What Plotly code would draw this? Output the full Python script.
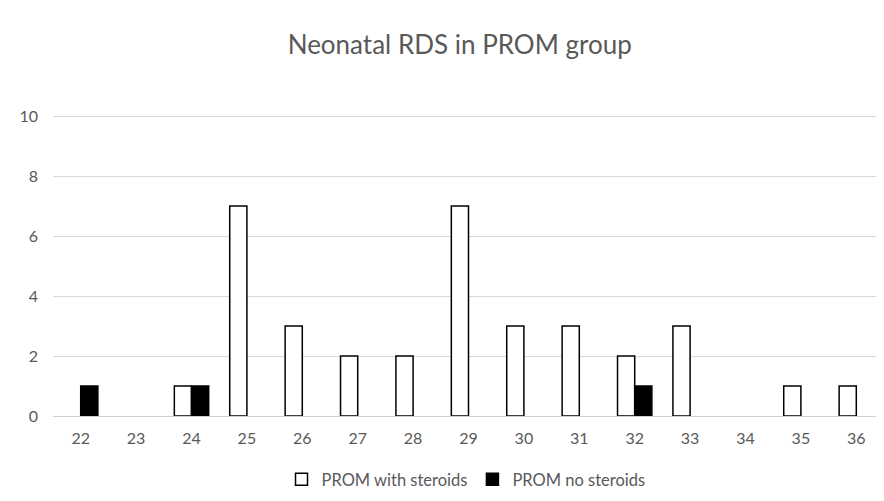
import plotly.graph_objects as go

weeks = [str(w) for w in range(22, 37)]
with_steroids = [0, 0, 1, 7, 3, 2, 2, 7, 3, 3, 2, 3, 0, 1, 1]
no_steroids = [1, 0, 1, 0, 0, 0, 0, 0, 0, 0, 1, 0, 0, 0, 0]

font = "Lato"
grey = "#595959"


def hide_zero(values):
    # zero counts are left empty so they don't leave an outline stub
    return [v if v else None for v in values]


fig = go.Figure()
fig.add_trace(go.Bar(
    x=weeks, y=hide_zero(with_steroids), name="PROM with steroids",
    marker=dict(color="white", line=dict(color="black", width=1.5)),
))
fig.add_trace(go.Bar(
    x=weeks, y=hide_zero(no_steroids), name="PROM no steroids",
    marker=dict(color="black", line=dict(color="black", width=1.5)),
))

fig.update_layout(
    width=884, height=501,
    template="simple_white",
    paper_bgcolor="white", plot_bgcolor="white",
    barmode="group", bargap=0.38, bargroupgap=0,
    title=dict(text="Neonatal RDS in PROM group", x=0.511, xanchor="center",
               y=0.926, yanchor="middle",
               font=dict(family=font, size=26, color=grey)),
    font=dict(family=font, size=16, color=grey),
    margin=dict(l=45, r=8, t=105, b=93),
    legend=dict(orientation="h", x=0.497, xanchor="center", y=-0.21, yanchor="middle",
                itemwidth=30, font=dict(family=font, size=16.5, color=grey),
                traceorder="normal"),
    showlegend=True,
)
fig.update_xaxes(type="category", showline=True, linecolor="#d0d0d0", linewidth=1,
                 ticks="", tickfont=dict(family=font, size=16, color=grey), mirror=False,
                 ticklabelstandoff=8)
fig.update_yaxes(range=[0, 10.1], tickvals=[0, 2, 4, 6, 8, 10], showgrid=True,
                 gridcolor="#d9d9d9", gridwidth=1,
                 showline=False, ticks="", zeroline=False,
                 tickfont=dict(family=font, size=16, color=grey), ticklabelstandoff=14)

fig.write_html("out.html")
